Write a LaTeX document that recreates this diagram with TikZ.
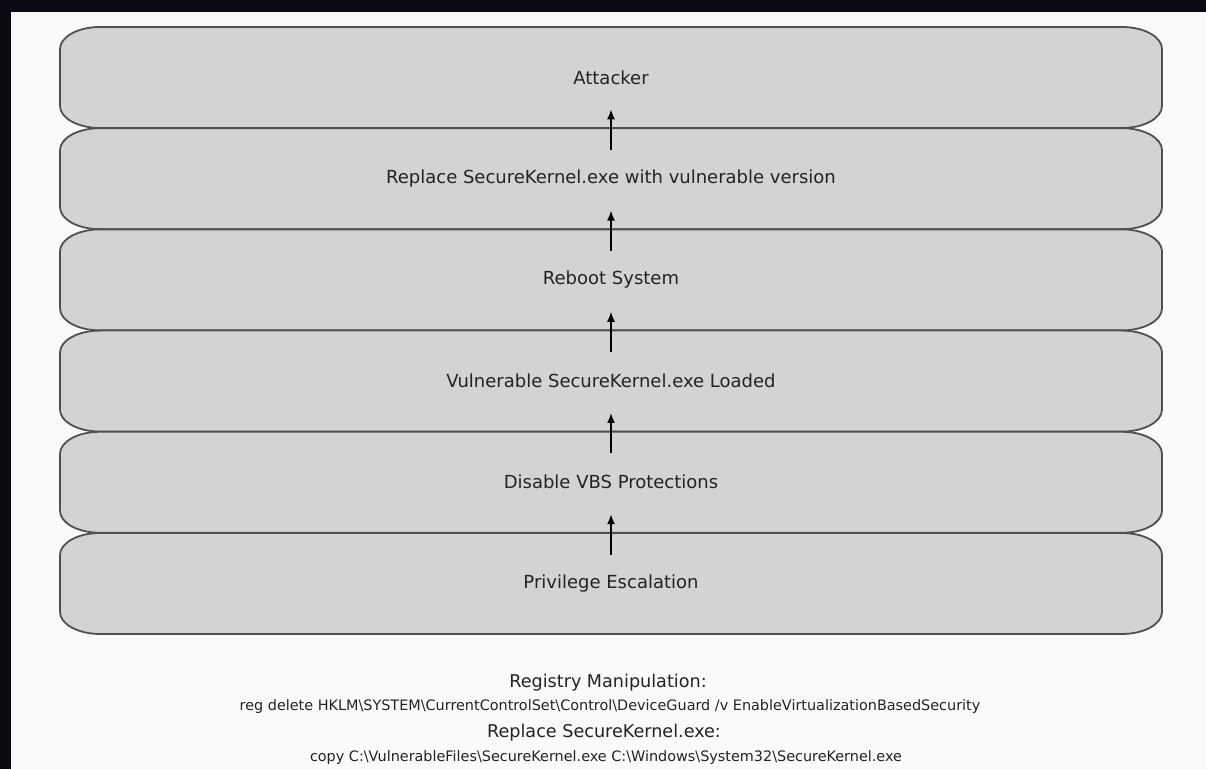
\documentclass[tikz,border=0pt]{standalone}
\usepackage{fontspec}
\setmainfont{DejaVu Sans}
\usetikzlibrary{arrows.meta}

\definecolor{frameink}{RGB}{13,10,20}
\definecolor{boxfill}{RGB}{211,211,211}
\definecolor{boxedge}{RGB}{80,80,80}
\definecolor{ink}{RGB}{35,35,35}
\definecolor{pagebg}{RGB}{250,250,250}

\tikzset{
  layer/.style={minimum width=551pt, minimum height=50.5pt, inner sep=0pt,
    font=\fontsize{9}{11}\selectfont, text=ink},
  note/.style={inner sep=0pt, text=ink, anchor=center},
  notehead/.style={note, font=\fontsize{8.8}{11}\selectfont},
  notecmd/.style={note, font=\fontsize{7.2}{9}\selectfont},
  flow/.style={-{Latex[length=5pt,width=4pt]}, line width=0.8pt, black},
  layeredge/.style={draw=boxedge, line width=0.9pt, fill=boxfill},
}

% band with elliptical corners (551pt x 50.5pt) centred at height #2,
% then the named text node #1 on top of it
\newcommand\layerbox[3]{%
  \path[layeredge] (50pt,#2pt-25.25pt) -- (561pt,#2pt-25.25pt)
    arc[start angle=-90, end angle=0, x radius=20pt, y radius=11pt]
    -- (581pt,#2pt+14.25pt)
    arc[start angle=0, end angle=90, x radius=20pt, y radius=11pt]
    -- (50pt,#2pt+25.25pt)
    arc[start angle=90, end angle=180, x radius=20pt, y radius=11pt]
    -- (30pt,#2pt-14.25pt)
    arc[start angle=180, end angle=270, x radius=20pt, y radius=11pt] -- cycle;
  \node[layer] (#1) at (305.5pt,#2pt) {#3};}

\begin{document}
\begin{tikzpicture}[x=1pt,y=1pt]
  \useasboundingbox (0pt,0pt) rectangle (603pt,384.5pt);

  % page, with dark edges along the top and left
  \path[fill=pagebg] (-3pt,-3pt) rectangle (606pt,387pt);
  \path[fill=frameink] (-3pt,378.25pt) rectangle (606pt,387pt);
  \path[fill=frameink] (-3pt,-3pt) rectangle (5.25pt,378.25pt);

  % attack chain, top to bottom
  \layerbox{attacker}{345.75}{Attacker}
  \layerbox{replace}{295.15}{Replace SecureKernel.exe with vulnerable version}
  \layerbox{reboot}{244.55}{Reboot System}
  \layerbox{loaded}{193.95}{Vulnerable SecureKernel.exe Loaded}
  \layerbox{disable}{143.35}{Disable VBS Protections}
  \layerbox{privesc}{92.75}{Privilege Escalation}

  % step arrows
  \draw[flow] ([yshift=-11pt]privesc.north) -- ([yshift=9.5pt]disable.south);
  \draw[flow] ([yshift=-11pt]disable.north) -- ([yshift=9.5pt]loaded.south);
  \draw[flow] ([yshift=-11pt]loaded.north)  -- ([yshift=9.5pt]reboot.south);
  \draw[flow] ([yshift=-11pt]reboot.north)  -- ([yshift=9.5pt]replace.south);
  \draw[flow] ([yshift=-11pt]replace.north) -- ([yshift=9.5pt]attacker.south);

  % command notes
  \node[notehead] (regtitle) at (304pt,43pt) {Registry Manipulation:};
  \node[notecmd]  (regcmd)   at (305pt,31pt) {reg delete HKLM\textbackslash SYSTEM\textbackslash CurrentControlSet\textbackslash Control\textbackslash DeviceGuard /v EnableVirtualizationBasedSecurity};
  \node[notehead] (reptitle) at (302pt,18pt) {Replace SecureKernel.exe:};
  \node[notecmd]  (repcmd)   at (303pt,5.5pt) {copy C:\textbackslash VulnerableFiles\textbackslash SecureKernel.exe C:\textbackslash Windows\textbackslash System32\textbackslash SecureKernel.exe};
\end{tikzpicture}
\end{document}
